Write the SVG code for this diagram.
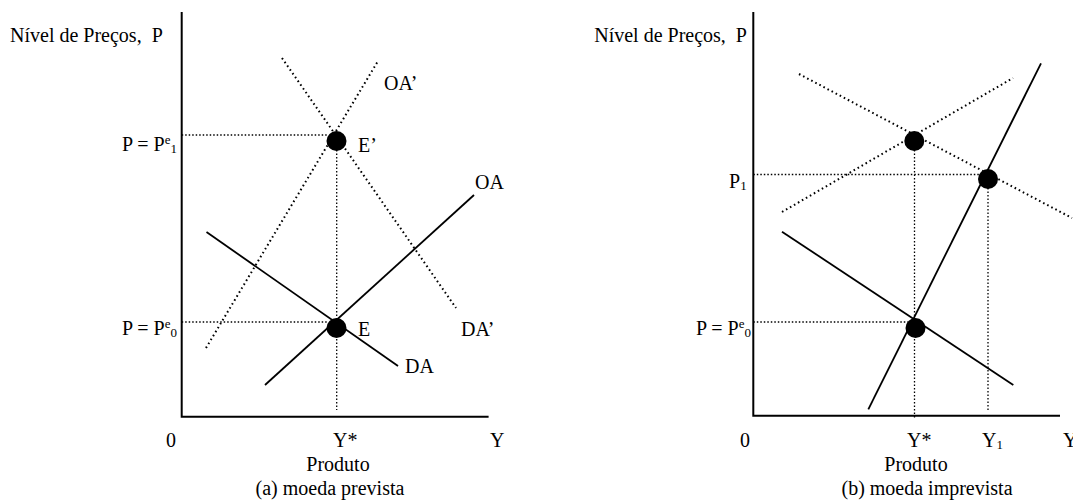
<svg xmlns="http://www.w3.org/2000/svg" width="1073" height="500" viewBox="0 0 1073 500">
<style>
text{font-family:"Liberation Serif","Times New Roman",serif;font-size:20px;fill:#000}
.s{font-size:13px}
.axis{stroke:#000;stroke-width:2;fill:none}
.solid{stroke:#000;stroke-width:1.8;fill:none}
.dcurve{stroke:#000;stroke-width:2;fill:none;stroke-dasharray:1.6 3}
.guide{stroke:#000;stroke-width:1.3;fill:none;stroke-dasharray:1.5 2}
.pt{fill:#000}
</style>
<rect width="1073" height="500" fill="#fff"/>
<!-- Panel A -->
<g id="panelA">
  <g id="axesA">
    <polyline class="axis" points="181.7,12 181.7,416.7 488.6,416.7"/>
  </g>
  <g id="connectorsA">
    <line class="guide" x1="181.7" y1="135" x2="328" y2="135"/>
    <line class="guide" x1="181.7" y1="322" x2="328" y2="322"/>
    <line class="guide" x1="336.7" y1="150" x2="336.7" y2="410"/>
    <line id="OAprimeA" class="dcurve" x1="206" y1="348" x2="378" y2="61"/>
    <line id="DAprimeA" class="dcurve" x1="282" y1="58" x2="456" y2="308"/>
    <line id="OAA" class="solid" x1="265" y1="385" x2="474" y2="195"/>
    <line id="DAA" class="solid" x1="206.5" y1="232" x2="398" y2="366"/>
  </g>
  <g id="nodeEprime"><circle class="pt" cx="336.5" cy="141" r="10"/><text x="358" y="152">E’</text></g>
  <g id="nodeE"><circle class="pt" cx="336.5" cy="328" r="10"/><text x="358" y="336">E</text></g>
  <g id="labelsA">
    <text x="10" y="42" xml:space="preserve">Nível de Preços,  P</text>
    <text x="177" y="151" text-anchor="end">P = P<tspan class="s" dy="-7">e</tspan><tspan class="s" dy="9">1</tspan></text>
    <text x="177" y="335" text-anchor="end">P = P<tspan class="s" dy="-7">e</tspan><tspan class="s" dy="9">0</tspan></text>
    <text x="384" y="90">OA’</text>
    <text x="475" y="189">OA</text>
    <text x="461" y="336">DA’</text>
    <text x="405" y="373">DA</text>
    <text x="166" y="447">0</text>
    <text x="333" y="447">Y*</text>
    <text x="490" y="447">Y</text>
    <text x="338" y="471" text-anchor="middle">Produto</text>
    <text x="330" y="495" text-anchor="middle">(a) moeda prevista</text>
  </g>
</g>
<!-- Panel B -->
<g id="panelB">
  <g id="axesB">
    <polyline class="axis" points="753.3,12 753.3,415.7 1060,415.7"/>
  </g>
  <g id="connectorsB">
    <line class="guide" x1="753.3" y1="174.5" x2="980" y2="174.5"/>
    <line class="guide" x1="753.3" y1="322" x2="908" y2="322"/>
    <line class="guide" x1="914.5" y1="150" x2="914.5" y2="419"/>
    <line class="guide" x1="988" y1="188" x2="988" y2="410"/>
    <line id="DAprimeB" class="dcurve" x1="799" y1="74" x2="1072" y2="218"/>
    <line id="OAprimeB" class="dcurve" x1="782" y1="212" x2="1013" y2="78"/>
    <line id="OAB" class="solid" x1="868.3" y1="409.3" x2="1041" y2="63.3"/>
    <line id="DAB" class="solid" x1="782" y1="231.7" x2="1013.3" y2="385"/>
  </g>
  <g id="nodeB1"><circle class="pt" cx="914.3" cy="141" r="10"/></g>
  <g id="nodeB2"><circle class="pt" cx="988" cy="179" r="10"/></g>
  <g id="nodeB0"><circle class="pt" cx="915.5" cy="328" r="10"/></g>
  <g id="labelsB">
    <text x="747" y="42" text-anchor="end" xml:space="preserve">Nível de Preços,  P</text>
    <text x="729" y="188">P<tspan class="s" dy="2">1</tspan></text>
    <text x="751" y="335" text-anchor="end">P = P<tspan class="s" dy="-7">e</tspan><tspan class="s" dy="9">0</tspan></text>
    <text x="740" y="447">0</text>
    <text x="907" y="447">Y*</text>
    <text x="982" y="447">Y<tspan class="s" dy="2">1</tspan></text>
    <text x="1063" y="447">Y</text>
    <text x="916" y="471" text-anchor="middle">Produto</text>
    <text x="927" y="495" text-anchor="middle">(b) moeda imprevista</text>
  </g>
</g>
</svg>
